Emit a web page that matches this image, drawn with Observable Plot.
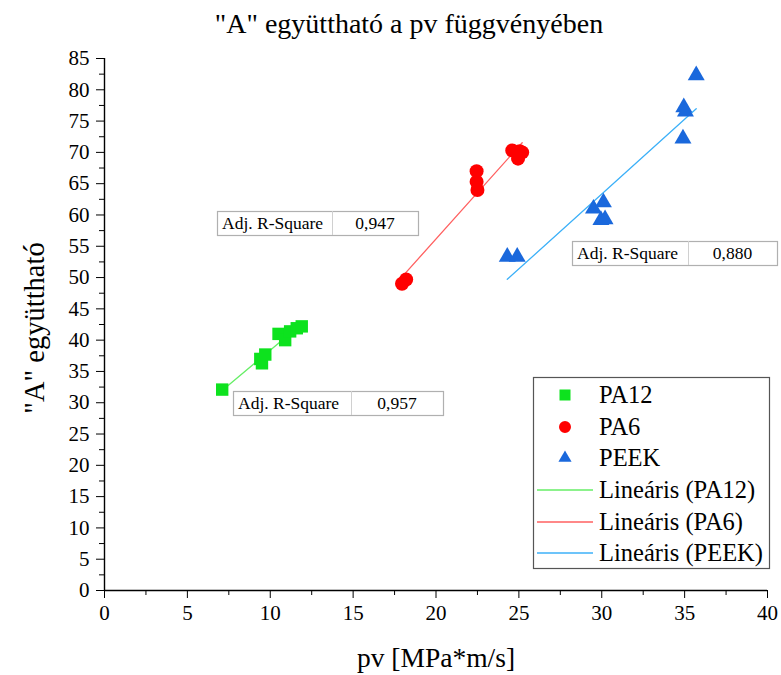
<!DOCTYPE html>
<html><head><meta charset="utf-8">
<script src="https://cdn.jsdelivr.net/npm/d3@7"></script>
<script src="https://cdn.jsdelivr.net/npm/@observablehq/plot@0.6"></script>
<style>body{margin:0;background:#fff} svg{display:block} #chart, #chart svg, #chart text{font-family:'Liberation Serif' !important}</style>
</head><body><div id="chart"></div>
<script>
const title = '"A" együttható a pv függvényében';
const xLabel = "pv [MPa*m/s]";
const yLabel = '"A" együttható';
const xTicks = [0, 5, 10, 15, 20, 25, 30, 35, 40];
const xMinor = [2.5, 7.5, 12.5, 17.5, 22.5, 27.5, 32.5, 37.5];
const yTicks = [0, 5, 10, 15, 20, 25, 30, 35, 40, 45, 50, 55, 60, 65, 70, 75, 80, 85];
const yMinor = [2.5, 7.5, 12.5, 17.5, 22.5, 27.5, 32.5, 37.5, 42.5, 47.5, 52.5, 57.5, 62.5, 67.5, 72.5, 77.5, 82.5];

const seriesNames = ["PA12", "PA6", "PEEK"];
const fitNames = ["Lineáris (PA12)", "Lineáris (PA6)", "Lineáris (PEEK)"];

const pa12X = [7.1, 9.4, 9.5, 9.7, 10.5, 10.9, 11.2, 11.6, 11.9];
const pa12Y = [32.1, 37.0, 36.3, 37.7, 41.0, 40.0, 41.4, 41.9, 42.2];
const pa6X = [17.95, 18.2, 22.45, 22.45, 22.5, 24.6, 24.95, 25.2, 25.05];
const pa6Y = [49.0, 49.7, 67.0, 65.3, 64.0, 70.3, 69.0, 70.0, 70.2];
const peekX = [24.3, 24.9, 29.5, 30.1, 29.95, 30.2, 34.95, 35.05, 34.9, 35.7];
const peekY = [53.3, 53.3, 61.0, 62.0, 59.2, 59.3, 77.2, 76.5, 72.2, 82.3];

const adjR2Label = "Adj. R-Square";
const adjR2 = ["0,957", "0,947", "0,880"];

const FONT = "Liberation Serif";
const pointColors = ["#0de21e", "#ff0000", "#1a68dc"];
const lineColors = ["#66ee66", "#ff6060", "#3cb0f8"];

const toRows = (xs, ys) => xs.map((x, i) => ({x, y: ys[i]}));
const sets = [toRows(pa12X, pa12Y), toRows(pa6X, pa6Y), toRows(peekX, peekY)];
const symbols = ["square", "circle", "triangle"];
const radii = [7, 7, 6.3];

const W = 781, H = 675;
const marks = [
  Plot.axisX(xMinor, {tickSize: 5, tickFormat: () => "", label: null, stroke: "#000"}),
  Plot.axisY(yMinor, {tickSize: 5, tickFormat: () => "", label: null, stroke: "#000"}),
  Plot.axisX(xTicks, {tickSize: 8, tickPadding: 7, fontSize: 21, fontFamily: FONT, label: null, stroke: "#000", fill: "#000"}),
  Plot.axisY(yTicks, {tickSize: 8, tickPadding: 7, fontSize: 21, fontFamily: FONT, label: null, stroke: "#000", fill: "#000"}),
  Plot.ruleY([0], {stroke: "#000", strokeWidth: 1.4}),
  Plot.ruleX([0], {stroke: "#000", strokeWidth: 1.4})
];
sets.forEach((d, i) => {
  marks.push(Plot.linearRegressionY(d, {x: "x", y: "y", stroke: lineColors[i], strokeWidth: 1.3, ci: 0}));
});
sets.forEach((d, i) => {
  marks.push(Plot.dot(d, {x: "x", y: "y", symbol: symbols[i], r: radii[i], fill: pointColors[i], stroke: "none"}));
});

const plot = Plot.plot({
  width: W, height: H,
  marginLeft: 104, marginRight: 14, marginTop: 58, marginBottom: 85,
  x: {domain: [0, 40], axis: null},
  y: {domain: [0, 85], axis: null},
  style: {fontFamily: FONT, background: "#fff", color: "#000"},
  marks
});
document.getElementById("chart").appendChild(plot);

const svg = d3.select(plot);
const ov = svg.append("g").attr("font-family", FONT).attr("fill", "#000").attr("text-anchor", "start");

// title & axis labels
ov.append("text").attr("x", 409).attr("y", 33).attr("text-anchor", "middle").attr("font-size", 28).text(title);
ov.append("text").attr("x", 436).attr("y", 667).attr("text-anchor", "middle").attr("font-size", 27.5).text(xLabel);
ov.append("text").attr("transform", "translate(44,328) rotate(-90)").attr("text-anchor", "middle").attr("font-size", 28.5).text(yLabel);

// R-square boxes
const boxes = [
  {x: 233, y: 391, w: 210, h: 24, div: 118},
  {x: 217, y: 211, w: 201, h: 24, div: 115},
  {x: 572, y: 241, w: 205, h: 24, div: 116}
];
boxes.forEach((b, i) => {
  const g = ov.append("g");
  g.append("rect").attr("x", b.x + 0.5).attr("y", b.y + 0.5).attr("width", b.w).attr("height", b.h)
    .attr("fill", "#fff").attr("stroke", "#b0b0b0").attr("stroke-width", 1.2);
  g.append("line").attr("x1", b.x + b.div + 0.5).attr("x2", b.x + b.div + 0.5).attr("y1", b.y).attr("y2", b.y + b.h)
    .attr("stroke", "#d0d0d0");
  g.append("text").attr("x", b.x + 5).attr("y", b.y + 18).attr("text-anchor", "start").attr("font-size", 17.5).text(adjR2Label);
  g.append("text").attr("x", b.x + b.div + (b.w - b.div) / 2).attr("y", b.y + 18).attr("text-anchor", "middle")
    .attr("font-size", 17.5).text(adjR2[i]);
});

// legend
const lg = ov.append("g");
lg.append("rect").attr("x", 533.5).attr("y", 377.5).attr("width", 236).attr("height", 191)
  .attr("fill", "#fff").attr("stroke", "#555").attr("stroke-width", 1.2);
const rowY = [395, 427, 458, 490, 522, 553];
const legSym = [d3.symbolSquare, d3.symbolCircle, d3.symbolTriangle];
const legSize = [121, 113, 75];
seriesNames.forEach((n, i) => {
  lg.append("path").attr("d", d3.symbol(legSym[i], legSize[i])())
    .attr("transform", `translate(565,${rowY[i]})`).attr("fill", pointColors[i]);
  lg.append("text").attr("x", 599).attr("y", rowY[i] + 8).attr("text-anchor", "start").attr("font-size", 24.5).text(n);
});
fitNames.forEach((n, i) => {
  const y = rowY[i + 3];
  lg.append("line").attr("x1", 537).attr("x2", 593).attr("y1", y).attr("y2", y)
    .attr("stroke", lineColors[i]).attr("stroke-width", 1.3);
  lg.append("text").attr("x", 599).attr("y", y + 8).attr("text-anchor", "start").attr("font-size", 24.5).text(n);
});
</script>
</body></html>
